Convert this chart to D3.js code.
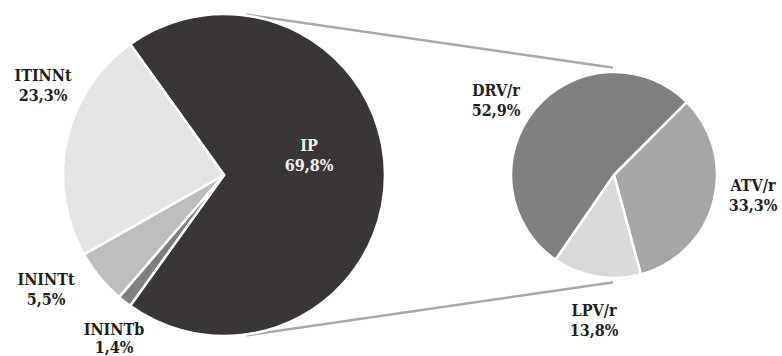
<!DOCTYPE html>
<html>
<head>
<meta charset="utf-8">
<script src="https://cdn.jsdelivr.net/npm/d3@7"></script>
<style>
  html, body { margin: 0; padding: 0; background: #ffffff; }
  svg { display: block; }
</style>
</head>
<body>
<svg id="chart" width="782" height="356"></svg>
<script>
// Main pie: share of each regimen group (%)
const mainLabels = ["IP", "ININTb", "ININTt", "ITINNt"];
const mainValues = [69.8, 1.4, 5.5, 23.3];
const mainColors = ["#3a3636", "#7f7f7f", "#bdbdbd", "#e4e4e4"];

// Secondary pie: breakdown of the IP group (%)
const subLabels = ["DRV/r", "ATV/r", "LPV/r"];
const subValues = [52.9, 33.3, 13.8];
const subColors = ["#808080", "#a6a6a6", "#d9d9d9"];

const FONT = "'DejaVu Serif', serif";
const FONT_SIZE = 16;

const svg = d3.select("#chart");
const deg = Math.PI / 180;

const main = { cx: 224, cy: 175, r: 161 };
const sub = { cx: 614, cy: 175, r: 103 };

// label anchors relative to the pie centre (text centre, first baseline)
const mainLabelOffsets = {
  "IP": [85, -24],
  "ININTb": [-110, 160],
  "ININTt": [-178, 110],
  "ITINNt": [-181, -94]
};
const subLabelOffsets = {
  "DRV/r": [-118, -79],
  "ATV/r": [139, 16],
  "LPV/r": [-20, 141]
};
const lineGap = { "ININTb": 18 };

const fmt = v => v.toFixed(1).replace(".", ",") + "%";

// The "other" slice (IP) is centred on the right-hand side, pointing to the secondary pie
const ipShare = mainValues[0] / d3.sum(mainValues);
const mainStart = 90 * deg - ipShare * Math.PI;
const mainPie = d3.pie().sort(null).value(d => d.value)
  .startAngle(mainStart).endAngle(mainStart + 2 * Math.PI);
const mainData = mainLabels.map((name, i) => ({ name, value: mainValues[i], color: mainColors[i] }));

// Secondary pie: DRV/r ends at the upper-right (45°)
const drvShare = subValues[0] / d3.sum(subValues);
const subStart = 45 * deg - drvShare * 2 * Math.PI;
const subPie = d3.pie().sort(null).value(d => d.value)
  .startAngle(subStart).endAngle(subStart + 2 * Math.PI);
const subData = subLabels.map((name, i) => ({ name, value: subValues[i], color: subColors[i] }));

// Connector lines: outer common tangents of the two circles
const connectors = svg.append("g").attr("class", "connectors");
(function () {
  const r1 = main.r + 1, r2 = sub.r + 3;
  const d = sub.cx - main.cx;
  const s = (r1 - r2) / d;
  const c = Math.sqrt(1 - s * s);
  [-1, 1].forEach(sign => {
    const nx = s, ny = sign * c;
    const x1 = main.cx + r1 * nx, y1 = main.cy + r1 * ny;
    const xt = sub.cx + r2 * nx, yt = sub.cy + r2 * ny;
    // stop the line a little before it meets the secondary pie
    const t = (sub.cx - 2 - x1) / (xt - x1);
    connectors.append("line")
      .attr("x1", x1).attr("y1", y1)
      .attr("x2", x1 + (xt - x1) * t).attr("y2", y1 + (yt - y1) * t)
      .attr("stroke", "#a8a8a8").attr("stroke-width", 2.5)
      .attr("stroke-linecap", "round");
  });
})();

function drawPie(cfg, pieGen, data, offsets, textFill) {
  const g = svg.append("g").attr("transform", `translate(${cfg.cx},${cfg.cy})`);
  const arc = d3.arc().innerRadius(0).outerRadius(cfg.r);
  g.selectAll("path.slice")
    .data(pieGen(data))
    .join("path")
    .attr("class", "slice")
    .attr("d", arc)
    .attr("fill", d => d.data.color)
    .attr("stroke", "#ffffff")
    .attr("stroke-width", 2.5)
    .attr("stroke-linejoin", "round");

  const labels = g.selectAll("g.label")
    .data(data)
    .join("g")
    .attr("class", "label")
    .attr("transform", d => `translate(${offsets[d.name][0]},${offsets[d.name][1]})`);
  [d => d.name, d => fmt(d.value)].forEach((txt, line) => {
    labels.append("text")
      .attr("text-anchor", "middle")
      .attr("font-family", FONT)
      .attr("font-weight", "bold")
      .attr("font-stretch", "condensed")
      .attr("font-size", FONT_SIZE)
      .attr("y", d => line ? (lineGap[d.name] || 20) : 0)
      .attr("fill", d => textFill(d))
      .text(txt);
  });
}

drawPie(main, mainPie, mainData, mainLabelOffsets, d => d.name === "IP" ? "#f2f2f2" : "#1e1e1e");
drawPie(sub, subPie, subData, subLabelOffsets, () => "#1e1e1e");
</script>
</body>
</html>
